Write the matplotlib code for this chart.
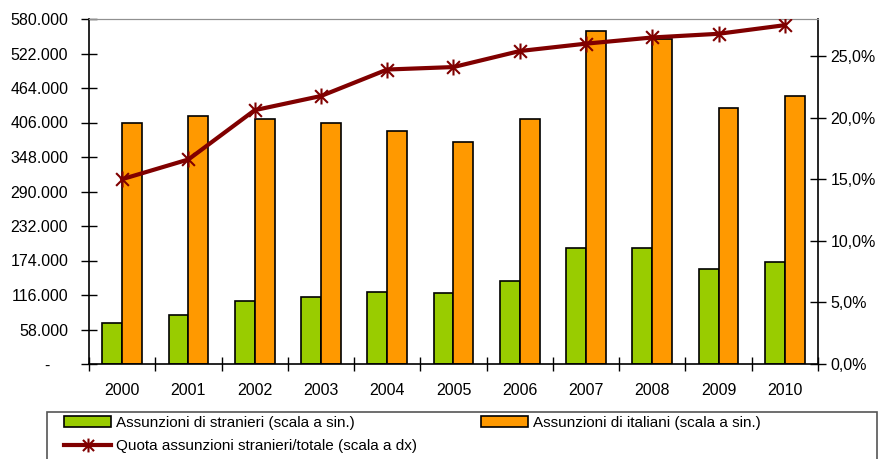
"""
Assunzioni di stranieri e italiani, 2000-2010, con quota stranieri sul totale.
Outputs: out.png
"""

import matplotlib
matplotlib.use("Agg")
import matplotlib.pyplot as plt
import matplotlib.ticker as ticker
from matplotlib.lines import Line2D
from matplotlib.patches import Patch, Rectangle
from matplotlib.path import Path
import numpy as np

plt.rcParams["font.family"] = ["Liberation Sans", "DejaVu Sans"]

# ── Data ─────────────────────────────────────────────────────────────────────
YEARS = ["2000", "2001", "2002", "2003", "2004", "2005",
         "2006", "2007", "2008", "2009", "2010"]
stranieri = [69400, 82400, 106400, 113100, 121500, 118800,
             140000, 195500, 195500, 159200, 171500]
italiani = [404600, 416900, 411300, 404600, 392200, 373700,
            411300, 560300, 545800, 429800, 450500]
quota = [0.150, 0.166, 0.206, 0.2175, 0.239, 0.241,
         0.254, 0.260, 0.265, 0.268, 0.275]

LEFT_TICKS = np.arange(0, 580001, 58000)
RIGHT_TICKS = [0.0, 0.05, 0.10, 0.15, 0.20, 0.25]

LABELS = ["Assunzioni di stranieri (scala a sin.)",
          "Assunzioni di italiani (scala a sin.)",
          "Quota assunzioni stranieri/totale (scala a dx)"]

GREEN = "#99CC00"
ORANGE = "#FF9900"
RED = "#800000"

# Excel-like star marker: an x with a vertical bar
STAR = Path([(-1, -1), (1, 1), (-1, 1), (1, -1), (0, -1.25), (0, 1.25)],
            [Path.MOVETO, Path.LINETO, Path.MOVETO, Path.LINETO,
             Path.MOVETO, Path.LINETO])

# ── Plot ─────────────────────────────────────────────────────────────────────
fig = plt.figure(figsize=(8.79, 4.59), dpi=100)
ax = fig.add_axes([89 / 879, 1 - 364 / 459, 729 / 879, 345 / 459])

x = np.arange(len(YEARS))
w = 0.3
ax.bar(x - w / 2, stranieri, w, color=GREEN, edgecolor="black", linewidth=1.2, zorder=2)
ax.bar(x + w / 2, italiani, w, color=ORANGE, edgecolor="black", linewidth=1.2, zorder=2)

ax.set_xlim(-0.5, len(YEARS) - 0.5)
ax.set_ylim(0, 580000)
ax.set_yticks(LEFT_TICKS)
ax.yaxis.set_major_formatter(ticker.FuncFormatter(
    lambda v, _: "-    " if v == 0 else f"{v:,.0f}".replace(",", ".")))
ax.set_xticks(x)
ax.set_xticklabels(YEARS)
ax.set_xticks(np.arange(-0.5, len(YEARS)), minor=True)
ax.tick_params(axis="x", which="major", length=0, pad=14, labelsize=11.5)
ax.tick_params(axis="x", which="minor", direction="inout", length=10, width=1)
ax.tick_params(axis="y", direction="inout", length=11, width=1, pad=9.5, labelsize=11.5)

ax.spines["top"].set_color("#909090")
ax.spines["left"].set_linewidth(1.2)
ax.spines["bottom"].set_linewidth(1.2)
ax.spines["right"].set_visible(False)

ax2 = ax.twinx()
ax2.plot(x, quota, color=RED, linewidth=3, marker=STAR, markersize=11.5,
         markeredgewidth=1.5, markerfacecolor="none", zorder=3)
ax2.set_ylim(0, 0.28)
ax2.set_yticks(RIGHT_TICKS)
ax2.yaxis.set_major_formatter(ticker.FuncFormatter(
    lambda v, _: f"{v * 100:.1f}%".replace(".", ",")))
ax2.tick_params(axis="y", direction="inout", length=11, width=1, pad=3.5, labelsize=11.5)
ax2.spines["right"].set_linewidth(1.2)
ax2.spines["top"].set_color("#909090")
for s in ["left", "bottom"]:
    ax2.spines[s].set_visible(False)

# ── Legend ───────────────────────────────────────────────────────────────────
fig.patches.append(Rectangle((47 / 879, -0.1), 830 / 879, 0.1 + 1 - 412 / 459,
                             transform=fig.transFigure, facecolor="white",
                             edgecolor="#555555", linewidth=1.2))
handles = [Patch(facecolor=GREEN, edgecolor="black", linewidth=1.2),
           Line2D([], [], color=RED, linewidth=3, marker=STAR, markersize=10,
                  markeredgewidth=1.5),
           Patch(facecolor=ORANGE, edgecolor="black", linewidth=1.2)]
fig.legend(handles, [LABELS[0], LABELS[2], LABELS[1]], ncol=2,
           loc="upper left", bbox_to_anchor=(64 / 879, 1 - 416 / 459),
           frameon=False, borderpad=0, borderaxespad=0,
           handlelength=3.1, handletextpad=0.3, columnspacing=4.2,
           labelspacing=0.62, fontsize=11)

plt.savefig("out.png", dpi=100)
